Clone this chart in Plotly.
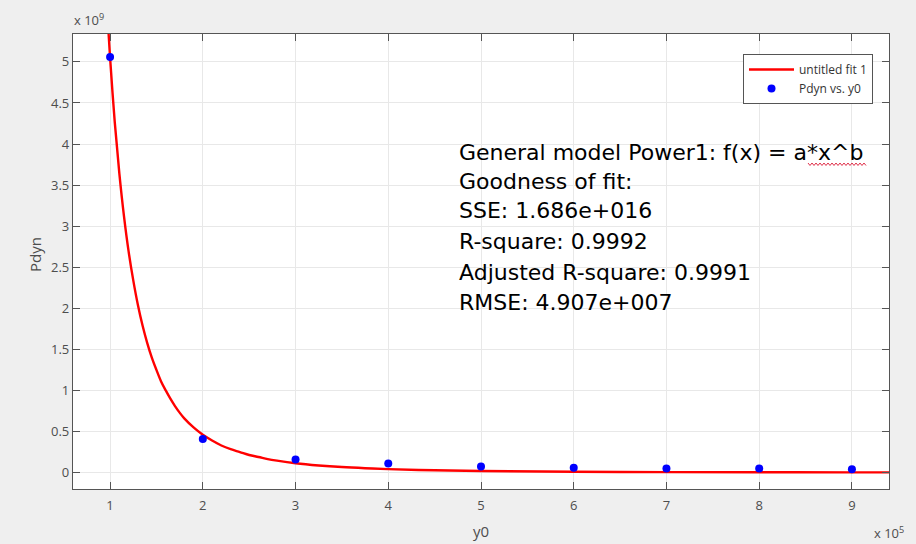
import plotly.graph_objects as go

# ---- data (x in units of 1e5, y in units of 1e9) ----
y0_vals = [1, 2, 3, 4, 5, 6, 7, 8, 9]
pdyn_vals = [5.06, 0.41, 0.16, 0.11, 0.073, 0.06, 0.05, 0.05, 0.04]

fit_x = [0.97, 1.0, 1.05, 1.1, 1.15, 1.2, 1.25, 1.3, 1.35, 1.4, 1.45, 1.5, 1.55, 1.6,
         1.65, 1.7, 1.75, 1.8, 1.9, 2.0, 2.1, 2.2, 2.3, 2.4, 2.5, 2.6, 2.7, 2.8,
         3.0, 3.25, 3.5, 3.75, 4.0, 4.5, 5.0, 6.0, 7.0, 8.0, 9.0, 9.4]
fit_y = [5.6, 5.05, 4.27, 3.64, 3.12, 2.69, 2.34, 2.04, 1.79, 1.58, 1.40, 1.25, 1.11, 1.00,
         0.90, 0.81, 0.73, 0.66, 0.55, 0.46, 0.39, 0.33, 0.285, 0.25, 0.214, 0.19, 0.164, 0.145,
         0.114, 0.087, 0.067, 0.053, 0.042, 0.028, 0.020, 0.010, 0.006, 0.004, 0.003, 0.002]

x_ticks = [1, 2, 3, 4, 5, 6, 7, 8, 9]
y_ticks = [0, 0.5, 1, 1.5, 2, 2.5, 3, 3.5, 4, 4.5, 5]
y_tick_text = ["0", "0.5", "1", "1.5", "2", "2.5", "3", "3.5", "4", "4.5", "5"]

fit_lines = [
    "General model Power1: f(x) = a*x^b",
    "Goodness of fit:",
    "SSE: 1.686e+016",
    "R-square: 0.9992",
    "Adjusted R-square: 0.9991",
    "RMSE: 4.907e+007",
]

W, H = 916, 544
L, R, T, B = 73, 27, 34, 55
PW, PH = W - L - R, H - T - B

def px_x(p):
    return (p - L) / PW

def px_y(p):
    return 1 - (p - T) / PH

fig = go.Figure()
fig.add_trace(go.Scatter(
    x=fit_x, y=fit_y, mode="lines", name="untitled fit 1",
    line=dict(color="#ff0000", width=2.4, shape="spline", smoothing=1.0),
))
fig.add_trace(go.Scatter(
    x=y0_vals, y=pdyn_vals, mode="markers", name="Pdyn vs. y0",
    marker=dict(color="#0000ff", size=8),
))

tick_font = dict(family="Open Sans, DejaVu Sans, sans-serif", size=13, color="#4d4d4d")
axis_common = dict(
    showline=True, linecolor="#555555", linewidth=1.2, mirror="ticks",
    ticks="inside", ticklen=7, tickcolor="#555555", tickwidth=1,
    showgrid=True, gridcolor="#e8e8e8", gridwidth=1, zeroline=False,
    tickfont=tick_font,
)

fig.update_xaxes(range=[0.6, 9.4], tickvals=x_ticks, ticktext=[str(v) for v in x_ticks],
                 ticklabelstandoff=4, **axis_common)
fig.update_yaxes(range=[-0.2, 5.34], tickvals=y_ticks, ticktext=y_tick_text,
                 **axis_common)

title_font = dict(family="Open Sans, sans-serif", size=15, color="#4d4d4d")
anns = []
anns.append(dict(text="y0", x=px_x(481), y=px_y(531), xref="paper", yref="paper",
                 xanchor="center", yanchor="middle", showarrow=False, font=title_font))
anns.append(dict(text="Pdyn", x=px_x(35), y=px_y(255), xref="paper", yref="paper", textangle=-90,
                 xanchor="center", yanchor="middle", showarrow=False, font=title_font))
anns.append(dict(text="x 10<sup>9</sup>", x=px_x(72), y=px_y(31), xref="paper", yref="paper",
                 xanchor="left", yanchor="bottom", showarrow=False,
                 font=dict(family="Open Sans, sans-serif", size=13, color="#4d4d4d")))
anns.append(dict(text="x 10<sup>5</sup>", x=px_x(906), y=px_y(544), xref="paper", yref="paper",
                 xanchor="right", yanchor="bottom", showarrow=False,
                 font=dict(family="Open Sans, sans-serif", size=13, color="#4d4d4d")))

line_y = [152, 182, 211, 242, 272, 302]
for txt, ly in zip(fit_lines, line_y):
    anns.append(dict(text=txt, x=px_x(457), y=px_y(ly), xref="paper", yref="paper",
                     xanchor="left", yanchor="middle", showarrow=False,
                     font=dict(family="DejaVu Sans, Arial, sans-serif", size=22, color="#000000")))

# red spell-check squiggle under "x^b"
sq_x0, sq_x1, sq_y = 808, 866, 164
pts = []
xx = sq_x0
k = 0
while xx <= sq_x1:
    pts.append((px_x(xx), px_y(sq_y + (1.5 if k % 2 else -1.0))))
    xx += 2
    k += 1
path = "M " + " L ".join(f"{a:.5f},{b:.5f}" for a, b in pts)

fig.update_layout(
    width=W, height=H,
    margin=dict(l=L, r=R, t=T, b=B),
    paper_bgcolor="#efefef", plot_bgcolor="#ffffff",
    showlegend=True,
    legend=dict(x=px_x(873), y=px_y(54), xanchor="right", yanchor="top",
                bgcolor="#ffffff", bordercolor="#555555", borderwidth=1,
                font=dict(family="Open Sans, sans-serif", size=12, color="#333333"),
                itemwidth=45, tracegroupgap=0),
    annotations=anns,
    shapes=[dict(type="path", path=path, xref="paper", yref="paper",
                 line=dict(color="#e0304a", width=1))],
)

fig.write_html("out.html")
